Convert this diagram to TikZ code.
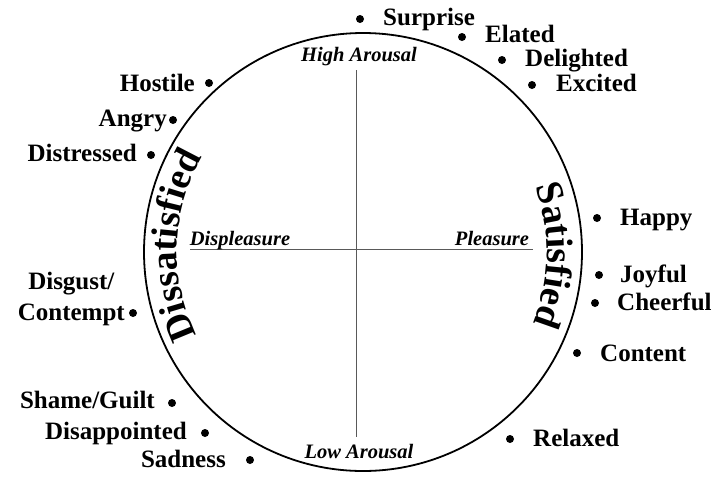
\documentclass[tikz,border=0pt]{standalone}
\usepackage{fontspec}
\setmainfont{Liberation Serif}
\usetikzlibrary{decorations.text}
\newcommand\arcfont{\fontsize{38}{40}\selectfont\bfseries}
\newcommand\labfont{\fontsize{25}{31}\selectfont\bfseries}
\newcommand\axfont{\fontsize{20.5}{21}\selectfont\bfseries\itshape}
\tikzset{
  dotmark/.style={circle,fill=black,inner sep=0pt,minimum size=8pt},
  labR/.style={anchor=base west,inner sep=0pt,font=\labfont},
  labL/.style={anchor=base east,inner sep=0pt,font=\labfont},
  axlabel/.style={anchor=base,inner sep=0pt,font=\axfont},
  axisline/.style={line width=0.8pt,draw=black!65},
  ring/.style={line width=1.8pt,draw=black}
}
\begin{document}
\begin{tikzpicture}[x=1pt,y=1pt]
\useasboundingbox (0,0) rectangle (714,-480);
% circle
\coordinate (ctr) at (363,-252);
\draw[ring] (ctr) circle[radius=219];
% axes
\coordinate (vtop) at (356,-70);
\coordinate (vbot) at (356,-437);
\coordinate (hleft) at (190,-249);
\coordinate (hright) at (533,-249);
\draw[axisline] (vtop) -- (vbot);
\draw[axisline] (hleft) -- (hright);
% axis labels
\node[axlabel] (high) at (359,-61) {High Arousal};
\node[axlabel] (low) at (359,-458) {Low Arousal};
\node[axlabel] (displ) at (240,-245) {Displeasure};
\node[axlabel] (pleas) at (492,-245) {Pleasure};
% curved labels
\path[decorate,decoration={text along path,text align=center,text={|\arcfont|Dissatisfied}}]
  (ctr) ++(213:186) arc[start angle=213,end angle=143,radius=186];
\path[decorate,decoration={text along path,text align=center,text={|\arcfont|Satisfied}}]
  (ctr) ++(34:184) arc[start angle=34,end angle=-36,radius=184];
% right-hand labels
\node[dotmark] (dsurprise) at (360,-19) {};
\node[labR] (surprise) at (383,-25) {Surprise};
\node[dotmark] (delated) at (462,-37) {};
\node[labR] (elated) at (485,-42) {Elated};
\node[dotmark] (ddelighted) at (502,-60) {};
\node[labR] (delighted) at (525,-66) {Delighted};
\node[dotmark] (dexcited) at (532,-85) {};
\node[labR] (excited) at (556,-91) {Excited};
\node[dotmark] (dhappy) at (597,-218) {};
\node[labR] (happy) at (620,-225) {Happy};
\node[dotmark] (djoyful) at (599,-275) {};
\node[labR] (joyful) at (620,-282) {Joyful};
\node[dotmark] (dcheerful) at (595,-303) {};
\node[labR] (cheerful) at (617,-310) {Cheerful};
\node[dotmark] (dcontent) at (577,-353) {};
\node[labR] (content) at (600,-361) {Content};
\node[dotmark] (drelaxed) at (510,-439) {};
\node[labR] (relaxed) at (533,-446) {Relaxed};
% left-hand labels
\node[dotmark] (dhostile) at (209,-83) {};
\node[labL] (hostile) at (195,-91) {Hostile};
\node[dotmark] (dangry) at (173,-120) {};
\node[labL] (angry) at (167,-126) {Angry};
\node[dotmark] (ddistressed) at (151,-155) {};
\node[labL] (distressed) at (137,-161) {Distressed};
\node[dotmark] (ddisgust) at (133,-313) {};
\node[anchor=east,inner sep=0pt,font=\labfont,align=center] (disgust) at (125,-299) {Disgust/\\Contempt};
\node[dotmark] (dshame) at (172,-403) {};
\node[labL] (shame) at (155,-408) {Shame/Guilt};
\node[dotmark] (ddisappointed) at (205,-433) {};
\node[labL] (disappointed) at (187,-439) {Disappointed};
\node[dotmark] (dsadness) at (250,-460) {};
\node[labL] (sadness) at (226,-467) {Sadness};
\end{tikzpicture}
\end{document}
